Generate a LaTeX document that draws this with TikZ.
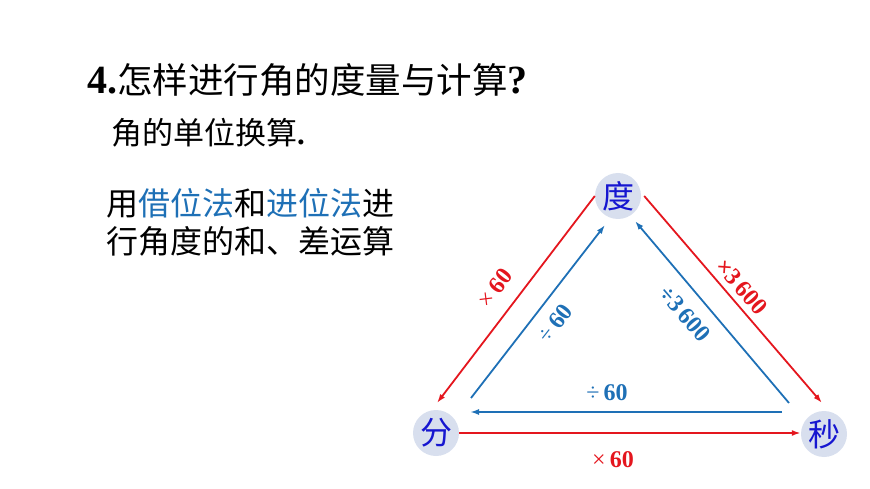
\documentclass[tikz,border=0pt]{standalone}
\usepackage{fontspec}
\setmainfont{Liberation Serif}
\newfontfamily\cjk{Noto Sans CJK SC}
\usetikzlibrary{positioning,calc,arrows.meta}

\definecolor{mulred}{RGB}{228,22,30}
\definecolor{divblue}{RGB}{30,112,182}
\definecolor{unitblue}{RGB}{22,22,208}
\definecolor{unitfill}{RGB}{216,223,238}

\tikzset{
  unit/.style={circle, fill=unitfill, minimum size=46pt, inner sep=0pt,
    text=unitblue, font=\cjk\fontsize{32}{32}\selectfont},
  mul/.style={draw=mulred, line width=1.8pt, -{Latex[length=9pt,width=6pt]}},
  div/.style={draw=divblue, line width=1.8pt, -{Latex[length=9pt,width=6pt]}},
  oplabel/.style={inner sep=0pt, font=\bfseries\fontsize{24}{24}\selectfont},
}

\begin{document}
\begin{tikzpicture}[x=1pt,y=-1pt]
  \useasboundingbox (0,0) rectangle (870,489);

  % text on the left
  \node[anchor=base west, inner sep=0pt] (title) at (87,94)
    {\bfseries\fontsize{40}{40}\selectfont 4.{\mdseries\cjk\fontsize{35.5}{36}\selectfont 怎样进行角的度量与计算}?};
  \node[anchor=base west, inner sep=0pt] (sub) at (111,145)
    {\cjk\fontsize{31}{31}\selectfont 角的单位换算{\rmfamily\bfseries .}};
  \node[anchor=base west, inner sep=0pt, font=\cjk\fontsize{32}{32}\selectfont] (rowa) at (106,215)
    {用\textcolor{divblue}{借位法}和\textcolor{divblue}{进位法}进};
  \node[anchor=base west, inner sep=0pt, font=\cjk\fontsize{32}{32}\selectfont] (rowb) at (106,254)
    {行角度的和、差运算};

  % units
  \node[unit] (du) at (618,196) {度};
  \node[unit] (fen) at (436,433) {分};
  \node[unit] (miao) at (824,434) {秒};

  \path
  ($(fen)+(1,-30)$) coordinate (fenT)
  ($(miao)+(-2,-31)$) coordinate (miaoT)
  ($(fen)+(35,-35)$) coordinate (fenI)
  ($(du)+(-13,29)$) coordinate (duL)
  ($(miao)+(-35,-31)$) coordinate (miaoI)
  ($(du)+(17,25)$) coordinate (duR)
  ($(miao)+(-42,-22)$) coordinate (miaoL)
  ($(fen)+(34,-21)$) coordinate (fenR);

  % conversions
  \draw[mul] (du.west) -- (fenT);
  \draw[mul] ($(du.east)+(3,0)$) -- (miaoT);
  \draw[mul] (fen.east) -- (fen.east -| miao.west);
  \draw[div] (fenI) -- (duL);
  \draw[div] (miaoI) -- (duR);
  \draw[div] (miaoL) -- (fenR);

  \node[oplabel, text=mulred, rotate=52] (m1) at (495,288) {\mdseries×\,\bfseries60};
  \node[oplabel, text=divblue, rotate=52] (d1) at (555,323) {\mdseries÷\,\bfseries60};
  \node[oplabel, text=mulred, rotate=-49] (m2) at (742,287) {×3\,600};
  \node[oplabel, text=divblue, rotate=-49] (d2) at (685,314) {÷3\,600};
  \node[oplabel, text=divblue] (d3) at (607,393) {\mdseries÷\,\bfseries60};
  \node[oplabel, text=mulred] (m3) at (613,460) {\mdseries×\,\bfseries60};
\end{tikzpicture}
\end{document}
